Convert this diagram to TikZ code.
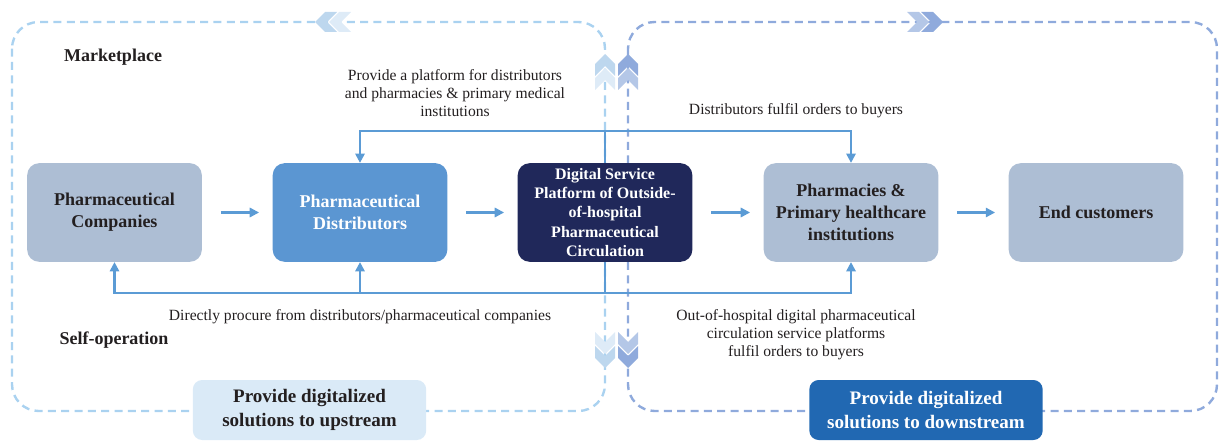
\documentclass[tikz,border=0pt]{standalone}
\usepackage{fontspec}
\setmainfont{Liberation Serif}
\usetikzlibrary{arrows.meta}

\definecolor{dashlight}{RGB}{170,210,240}
\definecolor{dashdark}{RGB}{143,170,220}
\definecolor{chevA}{RGB}{189,215,238}
\definecolor{chevB}{RGB}{222,235,247}
\definecolor{chevC}{RGB}{143,170,220}
\definecolor{chevD}{RGB}{180,199,231}
\definecolor{boxgrey}{RGB}{173,190,212}
\definecolor{distblue}{RGB}{91,150,210}
\definecolor{navy}{RGB}{32,40,90}
\definecolor{flowblue}{RGB}{91,155,213}
\definecolor{upfill}{RGB}{218,234,247}
\definecolor{downfill}{RGB}{33,104,178}
\definecolor{ink}{RGB}{35,31,32}

\tikzset{
  chevron/.pic={\fill[pic actions] (0,0) -- (-10,10) -- (-22,10) -- (-12,0) -- (-22,-10) -- (-10,-10) -- cycle;}
}

\begin{document}
\begin{tikzpicture}[x=0.75pt, y=-0.75pt,
    box/.style={rounded corners=9pt, minimum width=131pt, minimum height=74pt, align=center,
      font=\fontsize{13.5}{16.5}\selectfont\bfseries, text=ink},
    flow/.style={draw=flowblue, line width=1.6pt, -{Triangle[length=7pt,width=7pt]}},
    link/.style={draw=flowblue, line width=1.6pt},
    note/.style={align=center, font=\fontsize{11.7}{13.5}\selectfont, text=ink},
    heading/.style={font=\fontsize{13.5}{16}\selectfont\bfseries, text=ink},
    zone/.style={dash pattern=on 6pt off 4pt, line width=1.8pt, rounded corners=20pt},
    tag/.style={rounded corners=7pt, minimum width=175pt, minimum height=45pt, align=center,
      font=\fontsize{14.3}{18}\selectfont\bfseries}]
    \useasboundingbox (0,0) rectangle (1219,441);

    % dashed zones
    \draw[zone, dashlight] (12,22) rectangle (605,411);
    \draw[zone, dashdark] (628,22) rectangle (1217,411);

    % chain of boxes
    \node[box, fill=boxgrey] (comp) at (114.5,212.5) {Pharmaceutical\\Companies};
    \node[box, fill=distblue, text=white] (dist) at (360,212.5) {Pharmaceutical\\Distributors};
    \node[box, fill=navy, text=white, font=\fontsize{12}{14.6}\selectfont\bfseries] (plat) at (605,212.5)
      {Digital Service\\Platform of Outside-\\of-hospital\\Pharmaceutical\\Circulation};
    \node[box, fill=boxgrey] (pharm) at (851,212.5) {Pharmacies \&\\Primary healthcare\\institutions};
    \node[box, fill=boxgrey] (endc) at (1096,212.5) {End customers};

    \draw[flow, shorten <=14pt, shorten >=10pt] (comp) -- (dist);
    \draw[flow, shorten <=14pt, shorten >=10pt] (dist) -- (plat);
    \draw[flow, shorten <=14pt, shorten >=10pt] (plat) -- (pharm);
    \draw[flow, shorten <=14pt, shorten >=10pt] (pharm) -- (endc);

    % marketplace loop
    \coordinate (up) at (605,131);
    \draw[link] (plat) -- (up);
    \draw[flow] (up) -| (dist);
    \draw[flow] (up) -| (pharm);

    % self-operation loop
    \coordinate (down) at (605,293);
    \draw[link] (plat) -- (down);
    \draw[flow] (down) -| (comp);
    \draw[flow] (down) -| (dist);
    \draw[flow] (down) -| (pharm);

    % labels
    \node[heading] (market) at (113,57) {Marketplace};
    \node[heading] (selfop) at (114,340) {Self-operation};
    \node[note] (platnote) at (455,93) {Provide a platform for distributors\\and pharmacies \& primary medical\\institutions};
    \node[note] (fulfil) at (796,111) {Distributors fulfil orders to buyers};
    \node[note] (procure) at (360,317) {Directly procure from distributors/pharmaceutical companies};
    \node[note] (ohnote) at (796,335) {Out-of-hospital digital pharmaceutical\\circulation service platforms\\fulfil orders to buyers};

    \node[tag, fill=upfill, text=ink] (upstream) at (309.5,410) {Provide digitalized\\solutions to upstream};
    \node[tag, fill=downfill, text=white] (downstream) at (926,410) {Provide digitalized\\solutions to downstream};

    % chevrons
    \pic[fill=chevB, rotate=180] at (329,22) {chevron};
    \pic[fill=chevA, rotate=180] at (315,22) {chevron};
    \pic[fill=chevD] at (929,22) {chevron};
    \pic[fill=chevC] at (943,22) {chevron};
    \pic[fill=chevB, rotate=90] at (605,68) {chevron};
    \pic[fill=chevA, rotate=90] at (605,54) {chevron};
    \pic[fill=chevD, rotate=90] at (628,68) {chevron};
    \pic[fill=chevC, rotate=90] at (628,54) {chevron};
    \pic[fill=chevB, rotate=-90] at (605,354) {chevron};
    \pic[fill=chevA, rotate=-90] at (605,368) {chevron};
    \pic[fill=chevD, rotate=-90] at (628,354) {chevron};
    \pic[fill=chevC, rotate=-90] at (628,368) {chevron};
\end{tikzpicture}
\end{document}
